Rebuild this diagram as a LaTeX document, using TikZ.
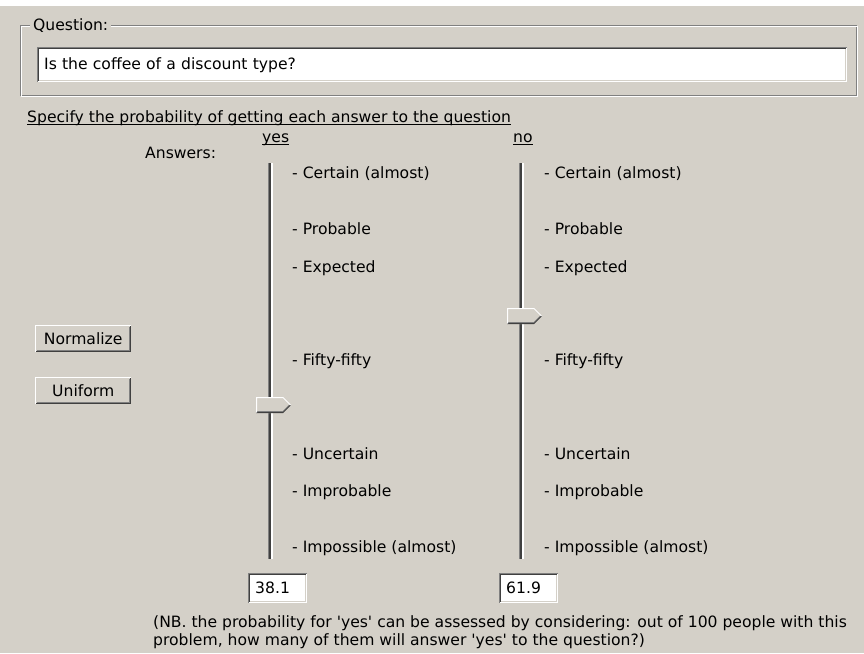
\documentclass[tikz,border=0pt]{standalone}
\usepackage{fontspec}
\newfontfamily\uifont{DejaVu Sans}[Ligatures=TeXOff]
\definecolor{face}{HTML}{D4D0C8}
\definecolor{shadow}{HTML}{808080}
\definecolor{dkshadow}{HTML}{404040}
\definecolor{hilite}{HTML}{FFFFFF}

% two-pixel bevel round a node: #2/#3 outer/inner top-left, #4/#5 outer/inner bottom-right
\newcommand\bevelbox[5]{%
  \draw[#4,line width=1pt] ([xshift=.5pt,yshift=.5pt]#1.south west) -- ([xshift=-.5pt,yshift=.5pt]#1.south east) -- ([xshift=-.5pt,yshift=-.5pt]#1.north east);
  \draw[#2,line width=1pt] ([xshift=.5pt,yshift=.5pt]#1.south west) -- ([xshift=.5pt,yshift=-.5pt]#1.north west) -- ([xshift=-.5pt,yshift=-.5pt]#1.north east);
  \draw[#5,line width=1pt] ([xshift=1.5pt,yshift=1.5pt]#1.south west) -- ([xshift=-1.5pt,yshift=1.5pt]#1.south east) -- ([xshift=-1.5pt,yshift=-1.5pt]#1.north east);
  \draw[#3,line width=1pt] ([xshift=1.5pt,yshift=1.5pt]#1.south west) -- ([xshift=1.5pt,yshift=-1.5pt]#1.north west) -- ([xshift=-1.5pt,yshift=-1.5pt]#1.north east);
}
% underline in the Windows manner, just under the baseline
\newcommand\ulnode[1]{%
  \draw[black,line width=1pt] ([yshift=-2.5pt]#1.base west) -- ([yshift=-2.5pt]#1.base east);
}
% slider thumb pointing right; #1 = track left edge, #2 = centre y
\newcommand\thumb[2]{%
  \fill[face] (#1-12,#2-8) -- (#1+15,#2-8) -- (#1+23,#2) -- (#1+15,#2+8) -- (#1-12,#2+8) -- cycle;
  \draw[shadow,line width=1pt] (#1-11,#2+6.5) -- (#1+15,#2+6.5) -- (#1+21.5,#2);
  \draw[dkshadow,line width=1pt] (#1-12,#2+7.5) -- (#1+15,#2+7.5) -- (#1+22.5,#2);
  \draw[hilite,line width=1pt] (#1-11.5,#2+7.5) -- (#1-11.5,#2-7.5) -- (#1+15,#2-7.5) -- (#1+22.5,#2);
}
% sunken slider channel from y=#2 to y=#3
\newcommand\track[3]{%
  \fill[shadow] (#1,#2) rectangle (#1+1,#3);
  \fill[dkshadow] (#1+1,#2) rectangle (#1+3,#3);
  \fill[hilite] (#1+3,#2) rectangle (#1+5,#3);
}

\begin{document}
\begin{tikzpicture}[x=1pt,y=-1pt,
  every node/.style={inner sep=0pt,font=\uifont\fontsize{15.6}{18}\selectfont},
  txt/.style={anchor=base west},
  field/.style={anchor=north west,fill=white,align=left,inner xsep=7pt},
  button/.style={anchor=north west,fill=face,inner sep=0pt}]
\useasboundingbox (0,0) rectangle (864,653);
\fill[face] (0,0) rectangle (864,653);
\fill[hilite] (0,0) rectangle (864,6);

% "Question" group box
\draw[shadow,line width=1pt] (20.5,25.5) rectangle (856.5,95.5);
\draw[hilite,line width=1pt] (21.5,26.5) rectangle (857.5,96.5);
\node[anchor=west,fill=face,inner xsep=3pt] (qlabel) at (30,26) {Question:};
\node[field,minimum height=35pt,text width=796pt] (qbox) at (37,47) {Is the coffee of a discount type?};
\bevelbox{qbox}{shadow}{dkshadow}{hilite}{face}

\node[txt] (spec) at (27,122) {Specify the probability of getting each answer to the question};
\ulnode{spec}

\node[txt] (answers) at (145,158) {Answers:};
\node[txt] (yes) at (262,142) {yes};
\ulnode{yes}
\node[txt] (no) at (513,142) {no};
\ulnode{no}

% slider channels and thumbs
\track{268}{163}{559}
\track{519}{163}{559}
\thumb{268}{405}
\thumb{519}{316}

% scale labels
\foreach \v/\t in {100/Certain (almost),85/Probable,75/Expected,50/Fifty-fifty,25/Uncertain,15/Improbable,0/Impossible (almost)}{
  \node[txt] (ylab\v) at (292,{547-3.74*\v+5.5}) {- \t};
  \node[txt] (nlab\v) at (544,{547-3.74*\v+5.5}) {- \t};
}

% buttons
\node[button,minimum width=96pt,minimum height=27pt] (normalize) at (35,325) {Normalize};
\bevelbox{normalize}{hilite}{face}{dkshadow}{shadow}
\node[button,minimum width=96pt,minimum height=27pt] (uniform) at (35,377) {Uniform};
\bevelbox{uniform}{hilite}{face}{dkshadow}{shadow}

% value fields
\node[field,minimum height=30pt,text width=45pt] (yval) at (248,573) {38.1};
\bevelbox{yval}{shadow}{dkshadow}{hilite}{face}
\node[field,minimum height=30pt,text width=45pt] (nval) at (499,573) {61.9};
\bevelbox{nval}{shadow}{dkshadow}{hilite}{face}

\node[txt] (nb1) at (153,627) {(NB. the probability for 'yes' can be assessed by considering: out of 100 people with this};
\node[txt] (nb2) at (153,645) {problem, how many of them will answer 'yes' to the question?)};
\end{tikzpicture}
\end{document}
